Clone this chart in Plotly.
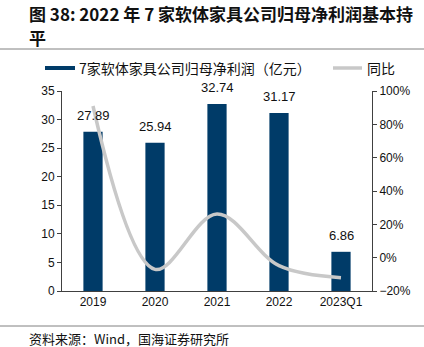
import plotly.graph_objects as go

categories = ["2019", "2020", "2021", "2022", "2023Q1"]
profit = [27.89, 25.94, 32.74, 31.17, 6.86]          # 亿元
yoy = [91.0, -7.0, 26.2, -4.8, -12.0]                  # %

BAR_COLOR = "#003B68"
LINE_COLOR = "#C8C8C8"
AXIS_COLOR = "#404040"
CJK = "Noto Sans CJK SC"
LATIN = "Liberation Sans, Arial"

W, H = 424, 347
L, R, T, B = 62, 52, 91, 56
PW, PH = W - L - R, H - T - B


def px(x):
    return (x - L) / PW


def py(y):
    return (H - B - y) / PH


fig = go.Figure()
fig.add_trace(go.Bar(
    x=categories, y=profit, name="7家软体家具公司归母净利润（亿元）",
    marker=dict(color=BAR_COLOR, line=dict(width=0)), width=0.31,
    showlegend=False,
))
fig.add_trace(go.Scatter(
    x=categories, y=yoy, name="同比", yaxis="y2", mode="lines",
    line=dict(color=LINE_COLOR, width=3.5, shape="spline", smoothing=1.0),
    showlegend=False,
))

fig.update_layout(
    width=W, height=H,
    margin=dict(l=L, r=R, t=T, b=B),
    paper_bgcolor="white", plot_bgcolor="white",
    bargap=0.69,
    xaxis=dict(
        type="category", range=[-0.5, len(categories) - 0.5],
        showgrid=False, showline=True, linecolor=AXIS_COLOR,
        linewidth=1, ticks="", tickfont=dict(family=LATIN, size=12, color="#111"),
        fixedrange=True,
    ),
    yaxis=dict(
        range=[0, 35], dtick=5, showgrid=False, showline=True, linecolor=AXIS_COLOR,
        linewidth=1, ticks="outside", ticklen=4, tickcolor=AXIS_COLOR,
        tickfont=dict(family=LATIN, size=12, color="#111"), zeroline=False,
    ),
    yaxis2=dict(
        range=[-20, 100], dtick=20, ticksuffix="%", overlaying="y", side="right",
        showgrid=False, showline=True, linecolor=AXIS_COLOR, linewidth=1,
        ticks="outside", ticklen=4, tickcolor=AXIS_COLOR,
        tickfont=dict(family=LATIN, size=12, color="#111"), zeroline=False,
    ),
    font=dict(family=CJK),
)

# value labels above the bars, placed on each bar's own data value
# (category axis positions given by index)
value_labels = [
    dict(x=i, y=v, xref="x", yref="y", text=f"{v:.2f}", showarrow=False,
         xanchor="center", yanchor="bottom", yshift=7,
         font=dict(family=LATIN, size=13, color="#111"))
    for i, v in enumerate(profit)
]

annotations = [
    dict(x=px(27), y=py(13), xanchor="left", yanchor="middle",
         text="<b>图 38: 2022 年 7 家软体家具公司归母净利润基本持</b>",
         font=dict(family=CJK, size=17, color="#111")),
    dict(x=px(27), y=py(37), xanchor="left", yanchor="middle",
         text="<b>平</b>", font=dict(family=CJK, size=17, color="#111")),
    dict(x=px(77), y=py(68), xanchor="left", yanchor="middle",
         text="7家软体家具公司归母净利润（亿元）",
         font=dict(family=CJK, size=14, color="#111")),
    dict(x=px(365), y=py(68), xanchor="left", yanchor="middle",
         text="同比", font=dict(family=CJK, size=14, color="#111")),
    dict(x=px(27), y=py(338), xanchor="left", yanchor="middle",
         text="资料来源：Wind，国海证券研究所",
         font=dict(family=CJK, size=13, color="#111")),
]
for a in annotations:
    a.update(xref="paper", yref="paper", showarrow=False)
fig.update_layout(annotations=value_labels + annotations)

shapes = [
    # rules under the title and above the source line
    dict(type="line", x0=px(0), x1=px(W), y0=py(49), y1=py(49),
         line=dict(color="#808080", width=1)),
    dict(type="line", x0=px(0), x1=px(W), y0=py(326), y1=py(326),
         line=dict(color="#808080", width=1)),
    # legend swatches
    dict(type="rect", x0=px(45), x1=px(75), y0=py(70), y1=py(66),
         fillcolor=BAR_COLOR, line=dict(width=0)),
    dict(type="line", x0=px(333), x1=px(362), y0=py(68), y1=py(68),
         line=dict(color=LINE_COLOR, width=3.5)),
]
for s in shapes:
    s.update(xref="paper", yref="paper")
fig.update_layout(shapes=shapes)

fig.write_html("out.html", config={"displayModeBar": False})
